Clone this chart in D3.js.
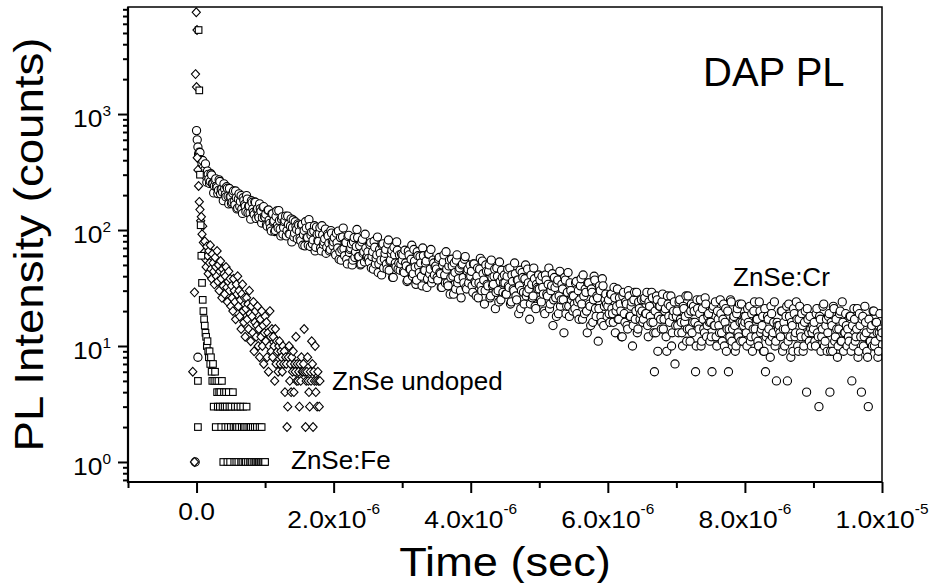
<!DOCTYPE html>
<html>
<head>
<meta charset="utf-8">
<script src="https://cdn.jsdelivr.net/npm/d3@7"></script>
<style>
  html, body { margin: 0; padding: 0; background: #fff; }
  svg { display: block; }
  text { font-family: "Liberation Sans", Arial, Helvetica, sans-serif; fill: #000; }
</style>
</head>
<body>
<div id="chart"></div>
<script>
// ==============================
// DATA (time in microseconds, PL counts)
// ==============================

const xTicks = [0, 2, 4, 6, 8, 10];
const xTickLabels = ["0.0", "2.0x10", "4.0x10", "6.0x10", "8.0x10", "1.0x10"];
const xTickExps = ["", "-6", "-6", "-6", "-6", "-5"];
const xMinorTicks = [-1, 1, 3, 5, 7, 9];
const yTicks = [1, 10, 100, 1000];
const yTickExps = ["0", "1", "2", "3"];

// ZnSe:Cr (circles), channels at t = 0, 0.02, 0.04 ... us
const crStart = 0, crStep = 0.02;
const crCounts = [
  720, 520, 470, 405, 372, 345, 330, 290, 322, 275, 262, 298, 250, 240, 276, 232, 220, 262, 224, 212, 250, 202, 236, 196, 228,
  194, 174, 217, 165, 190, 155, 205, 176, 152, 190, 166, 144, 185, 160, 140, 179, 152, 136, 173, 150, 133, 168, 145, 128, 159,
  129, 111, 148, 122, 104, 138, 117, 97, 131, 110, 147, 102, 124, 92, 118, 132, 99, 112, 92, 125, 105, 87, 118, 101, 113,
  97, 81, 112, 91, 73, 104, 86, 123, 72, 96, 82, 109, 71, 92, 80, 105, 66, 91, 79, 102, 71, 89, 66, 99, 80,
  79, 64, 94, 70, 56, 86, 68, 104, 60, 78, 51, 90, 68, 76, 55, 86, 65, 101, 59, 73, 51, 83, 65, 92, 58,
  65, 53, 78, 59, 46, 71, 57, 87, 51, 63, 41, 76, 56, 68, 46, 82, 54, 63, 39, 71, 52, 79, 46, 61, 51,
  55, 44, 67, 49, 37, 61, 46, 74, 42, 54, 34, 65, 49, 59, 40, 70, 45, 52, 32, 62, 42, 68, 38, 52, 48,
  46, 37, 58, 42, 32, 53, 41, 65, 35, 49, 28, 56, 40, 52, 31, 61, 38, 47, 26, 51, 35, 59, 31, 46, 40,
  40, 33, 51, 36, 27, 47, 35, 57, 30, 42, 23, 50, 34, 44, 26, 55, 33, 40, 21, 47, 30, 53, 25, 39, 35,
  35, 28, 46, 32, 23, 41, 31, 52, 27, 37, 19, 45, 30, 39, 23, 50, 29, 35, 17, 41, 26, 47, 22, 34, 31,
  31, 25, 40, 28, 19, 37, 27, 47, 23, 33, 15, 39, 26, 35, 19, 44, 25, 31, 13, 37, 22, 43, 18, 30, 27,
  27, 21, 36, 24, 17, 33, 23, 41, 19, 29, 13, 35, 22, 31, 16, 40, 21, 27, 11, 33, 18, 38, 15, 25, 23,
  22, 19, 28, 21, 16, 26, 20, 31, 17, 23, 12, 27, 19, 24, 15, 30, 18, 22, 10, 25, 17, 29, 14, 21, 19,
  20, 17, 26, 19, 15, 24, 18, 29, 16, 6, 13, 25, 18, 22, 14, 28, 17, 21, 9, 23, 16, 27, 13, 20, 7,
  18, 15, 24, 17, 13, 22, 16, 27, 14, 19, 11, 23, 16, 20, 6, 25, 15, 19, 10, 21, 14, 26, 12, 18, 16,
  16, 6, 22, 15, 12, 20, 15, 25, 13, 17, 10, 21, 14, 6, 12, 24, 14, 18, 9, 19, 13, 23, 11, 16, 15,
  16, 13, 21, 15, 11, 19, 14, 24, 12, 17, 10, 20, 14, 18, 9, 6, 13, 17, 11, 22, 12, 16, 10, 5, 15,
  15, 12, 20, 14, 10, 18, 5, 23, 12, 16, 9, 19, 13, 17, 9, 22, 12, 15, 10, 20, 4, 17, 11, 14, 13,
  14, 11, 19, 13, 3, 17, 12, 22, 10, 15, 9, 18, 4, 16, 9, 21, 12, 14, 10, 19, 11, 24, 9, 13, 15,
  14, 11, 18, 5, 10, 17, 12, 21, 9, 15, 4, 18, 12, 16, 9, 3, 11, 14, 10, 20, 11, 16, 8, 13, 12,
  13
];
// ZnSe:Cr, channels in between, at t = 0.01, 0.03, 0.05 ... us
const crOddStart = 0.01;
const crOddCounts = [
  600, 451, 466, 343, 398, 318, 372, 258, 302, 252, 306, 252, 209, 267, 238, 206, 271, 205, 226, 179, 226, 193, 229, 168, 194,
  169, 208, 176, 217, 152, 185, 160, 198, 139, 180, 160, 198, 141, 161, 124, 173, 142, 175, 126, 153, 128, 153, 115, 157, 131,
  137, 108, 149, 114, 98, 138, 120, 99, 146, 104, 121, 89, 130, 105, 121, 89, 132, 93, 108, 79, 122, 94, 107, 84, 110,
  85, 110, 74, 99, 118, 86, 74, 107, 90, 76, 98, 66, 106, 81, 93, 70, 109, 75, 84, 63, 92, 77, 68, 94, 73,
  86, 61, 78, 98, 65, 55, 87, 69, 78, 56, 88, 64, 70, 50, 79, 58, 72, 86, 59, 50, 79, 63, 53, 70, 59,
  57, 75, 47, 65, 80, 51, 61, 43, 68, 55, 74, 47, 63, 51, 76, 45, 55, 67, 39, 61, 48, 67, 52, 45, 62,
  61, 43, 52, 36, 66, 46, 56, 40, 68, 48, 37, 60, 43, 52, 33, 60, 45, 54, 38, 62, 46, 35, 55, 41, 49,
  39, 56, 43, 32, 50, 61, 35, 46, 33, 55, 39, 49, 28, 43, 55, 35, 45, 30, 50, 39, 56, 32, 44, 35, 50,
  44, 29, 51, 35, 40, 26, 46, 33, 54, 37, 30, 44, 33, 50, 27, 39, 34, 46, 29, 40, 24, 36, 45, 29, 41,
  28, 40, 33, 47, 24, 36, 30, 42, 25, 37, 33, 21, 43, 29, 38, 27, 46, 31, 23, 34, 27, 38, 21, 32, 41,
  37, 24, 32, 20, 41, 28, 34, 21, 30, 42, 25, 32, 18, 37, 27, 22, 34, 25, 39, 19, 29, 22, 35, 25, 20,
  23, 35, 19, 30, 25, 38, 17, 27, 31, 20, 35, 23, 15, 29, 25, 37, 18, 26, 21, 30, 16, 33, 22, 28, 18,
  25, 16, 28, 19, 32, 13, 22, 17, 26, 20, 12, 29, 16, 23, 14, 27, 18, 24, 15, 29, 20, 13, 24, 17, 25,
  16, 25, 19, 29, 12, 22, 16, 26, 13, 20, 27, 9, 22, 17, 24, 14, 20, 12, 27, 18, 22, 10, 18, 24, 15,
  20, 13, 25, 16, 10, 21, 18, 11, 27, 14, 20, 13, 22, 16, 10, 21, 14, 25, 11, 17, 13, 23, 15, 19, 11,
  12, 21, 15, 24, 10, 17, 13, 19, 11, 23, 16, 9, 20, 14, 25, 11, 17, 15, 10, 21, 12, 16, 23, 11, 18,
  18, 10, 16, 22, 12, 9, 20, 14, 17, 11, 24, 13, 15, 9, 21, 12, 18, 14, 8, 19, 13, 24, 11, 16, 14,
  13, 20, 9, 16, 14, 22, 11, 18, 8, 15, 21, 12, 24, 10, 17, 13, 19, 9, 16, 12, 21, 13, 18, 10, 15,
  16, 10, 21, 12, 18, 9, 14, 23, 11, 17, 13, 19, 9, 15, 22, 11, 17, 8, 14, 20, 11, 16, 13, 19, 10,
  12, 18, 9, 15, 21, 11, 14, 8, 19, 12, 17, 10, 22, 13, 8, 17, 11, 15, 20, 10, 16, 13, 9, 19, 14
];
const crExtra = [[-0.02, 1], [0.02, 8]];

// ZnSe undoped (diamonds), sampled every 0.01 us from t = 0.01
const undopedStart = 0.01, undopedStep = 0.01;
const undopedCounts = [
  420, 330, 240, 175, 150, 120, 130, 92, 108, 78,
  64, 80, 56, 48, 72, 60, 42, 66, 52, 74,
  46, 38, 62, 52, 44, 34, 58, 48, 40, 66,
  36, 50, 30, 44, 54, 38, 26, 46, 33, 42,
  28, 40, 48, 32, 24, 36, 44, 30, 38, 22,
  33, 26, 20, 38, 30, 24, 17, 34, 28, 40,
  22, 30, 18, 25, 14, 28, 34, 20, 16, 26,
  12, 21, 26, 17, 23, 14, 30, 19, 11, 22,
  18, 13, 24, 9, 16, 20, 12, 15, 22, 10,
  14, 8, 17, 12, 20, 10, 15, 7, 13, 18,
  11, 16, 8, 13, 6, 10, 20, 12, 9, 14,
  8, 12, 10, 5, 14, 7, 11, 9, 6, 10,
  11, 7, 9, 8, 6, 10, 7, 9, 4, 8,
  7, 2, 3, 8, 10, 5, 7, 4, 8, 6,
  9, 4, 7, 6, 12, 5, 7, 5, 6, 3,
  7, 5, 8, 6, 6, 7, 14, 6, 2, 5,
  6, 8, 5, 4, 3, 6, 5, 11, 7, 2,
  6, 5, 10, 4, 5, 3, 6, 5, 3, 5
];
const undopedExtra = [[-0.004, 7540], [0.007, 5300], [-0.015, 2210], [0.0, 1710], [-0.03, 29], [-0.055, 6], [-0.03, 1]];

// ZnSe:Fe (squares), sampled every 0.01 us from t = 0.03 (0 = no count)
const feStart = 0.03, feStep = 0.01;
const feCounts = [
  5300, 1600, 300, 110, 60, 35, 25, 20, 17, 15,
  13, 12, 10, 11, 9, 8, 9, 7, 8, 6,
  5, 7, 3, 5, 6, 2, 5, 4, 3, 5,
  4, 3, 4, 2, 5, 3, 1, 4, 3, 2,
  4, 3, 1, 2, 4, 3, 1, 2, 3, 0,
  4, 2, 1, 3, 2, 1, 2, 3, 1, 2,
  0, 3, 1, 2, 1, 3, 2, 1, 2, 1,
  3, 2, 1, 0, 2, 1, 2, 1, 1, 2,
  0, 1, 2, 1, 1, 2, 1, 0, 1, 2,
  1, 1, 2, 1, 1, 0, 1, 1
];
const feExtra = [[0.02, 5], [0.02, 2]];


// ==============================
// SVG AND SCALES
// ==============================

const W = 933, H = 583;
const plot = { left: 128, right: 882, top: 7, bottom: 482 };

const svg = d3.select("#chart").append("svg")
  .attr("width", W)
  .attr("height", H);

const x = d3.scaleLinear().domain([-1, 10]).range([plot.left, plot.right]);
const y = d3.scaleLog().domain([0.672, 8375]).range([plot.bottom, plot.top]);

// Build [t, counts] points from a sampled series
function toPoints(start, step, counts) {
  return counts.map((c, i) => [start + i * step, c]);
}

const crPoints = crExtra
  .concat(toPoints(crStart, crStep, crCounts), toPoints(crOddStart, crStep, crOddCounts))
  .sort((a, b) => a[0] - b[0]);
const undopedPoints = undopedExtra.concat(toPoints(undopedStart, undopedStep, undopedCounts));
const fePoints = feExtra.concat(toPoints(feStart, feStep, feCounts)).filter(d => d[1] > 0);

svg.append("clipPath").attr("id", "plot-clip")
  .append("rect")
  .attr("x", plot.left).attr("y", plot.top)
  .attr("width", plot.right - plot.left).attr("height", plot.bottom - plot.top);

const marks = svg.append("g").attr("clip-path", "url(#plot-clip)");


// ==============================
// MARKERS
// ==============================

marks.append("g").selectAll("circle")
  .data(crPoints)
  .join("circle")
  .attr("cx", d => x(d[0]))
  .attr("cy", d => y(d[1]))
  .attr("r", 4.1)
  .attr("fill", "#fff")
  .attr("stroke", "#000")
  .attr("stroke-width", 1.1);

marks.append("g").selectAll("path")
  .data(undopedPoints)
  .join("path")
  .attr("d", "M0,-4.4L4.1,0L0,4.4L-4.1,0Z")
  .attr("transform", d => `translate(${x(d[0])},${y(d[1])})`)
  .attr("fill", "#fff")
  .attr("stroke", "#000")
  .attr("stroke-width", 1.1);

marks.append("g").selectAll("rect")
  .data(fePoints)
  .join("rect")
  .attr("x", d => x(d[0]) - 3.3)
  .attr("y", d => y(d[1]) - 3.3)
  .attr("width", 6.6)
  .attr("height", 6.6)
  .attr("fill", "#fff")
  .attr("stroke", "#000")
  .attr("stroke-width", 1.1);


// ==============================
// AXES
// ==============================

// Major / minor ticks on the bottom axis
svg.append("g")
  .attr("transform", `translate(0,${plot.bottom})`)
  .call(d3.axisBottom(x).tickValues(xTicks).tickSize(11).tickFormat(""))
  .call(g => g.select(".domain").remove())
  .call(g => g.selectAll("line").attr("stroke-width", 2));

svg.append("g")
  .attr("transform", `translate(0,${plot.bottom})`)
  .call(d3.axisBottom(x).tickValues(xMinorTicks).tickSize(6).tickFormat(""))
  .call(g => g.select(".domain").remove())
  .call(g => g.selectAll("line").attr("stroke-width", 2));

// Major / minor ticks on the left axis
const yMinor = y.ticks().filter(v => !yTicks.includes(v));

svg.append("g")
  .attr("transform", `translate(${plot.left},0)`)
  .call(d3.axisLeft(y).tickValues(yTicks).tickSize(10).tickFormat(""))
  .call(g => g.select(".domain").remove())
  .call(g => g.selectAll("line").attr("stroke-width", 2));

svg.append("g")
  .attr("transform", `translate(${plot.left},0)`)
  .call(d3.axisLeft(y).tickValues(yMinor).tickSize(5).tickFormat(""))
  .call(g => g.select(".domain").remove())
  .call(g => g.selectAll("line").attr("stroke-width", 2));

// Frame
svg.append("rect")
  .attr("x", plot.left).attr("y", plot.top)
  .attr("width", plot.right - plot.left).attr("height", plot.bottom - plot.top)
  .attr("fill", "none").attr("stroke", "#000").attr("stroke-width", 1.5);
svg.append("path")
  .attr("d", `M${plot.left},${plot.top}V${plot.bottom}H${plot.right}`)
  .attr("fill", "none").attr("stroke", "#000").attr("stroke-width", 2.2);

// Tick labels (slightly wide lettering, like the original)
const xLab = svg.append("g").selectAll("g")
  .data(xTicks)
  .join("g")
  .attr("transform", (d, i) => `translate(${x(d)},${xTickExps[i] ? 528 : 520}) scale(1.1,1)`)
  .append("text")
  .attr("text-anchor", "middle")
  .style("font-size", "24px");
xLab.append("tspan").text((d, i) => xTickLabels[i]);
xLab.append("tspan")
  .attr("dy", -14)
  .style("font-size", "14px")
  .text((d, i) => xTickExps[i]);

const yLab = svg.append("g").selectAll("g")
  .data(yTicks)
  .join("g")
  .attr("transform", d => `translate(111,${y(d) + 13}) scale(1.1,1)`)
  .append("text")
  .attr("text-anchor", "end")
  .style("font-size", "24px");
yLab.append("tspan").text("10");
yLab.append("tspan")
  .attr("dy", -11)
  .style("font-size", "14px")
  .text((d, i) => yTickExps[i]);

// Axis titles
svg.append("g")
  .attr("transform", `translate(${(plot.left + plot.right) / 2},576) scale(1.13,1)`)
  .append("text")
  .attr("text-anchor", "middle")
  .style("font-size", "40px")
  .text("Time (sec)");

svg.append("g")
  .attr("transform", `translate(43,${(plot.top + plot.bottom) / 2}) rotate(-90) scale(1.14,1)`)
  .append("text")
  .attr("text-anchor", "middle")
  .style("font-size", "40px")
  .text("PL Intensity (counts)");


// ==============================
// ANNOTATIONS
// ==============================

svg.append("text").attr("x", 703).attr("y", 86)
  .style("font-size", "40px").text("DAP PL");
svg.append("text").attr("x", 733).attr("y", 286)
  .style("font-size", "26px").text("ZnSe:Cr");
svg.append("text").attr("x", 332).attr("y", 390)
  .style("font-size", "26px").text("ZnSe undoped");
svg.append("text").attr("x", 291).attr("y", 469)
  .style("font-size", "26px").text("ZnSe:Fe");
</script>
</body>
</html>
